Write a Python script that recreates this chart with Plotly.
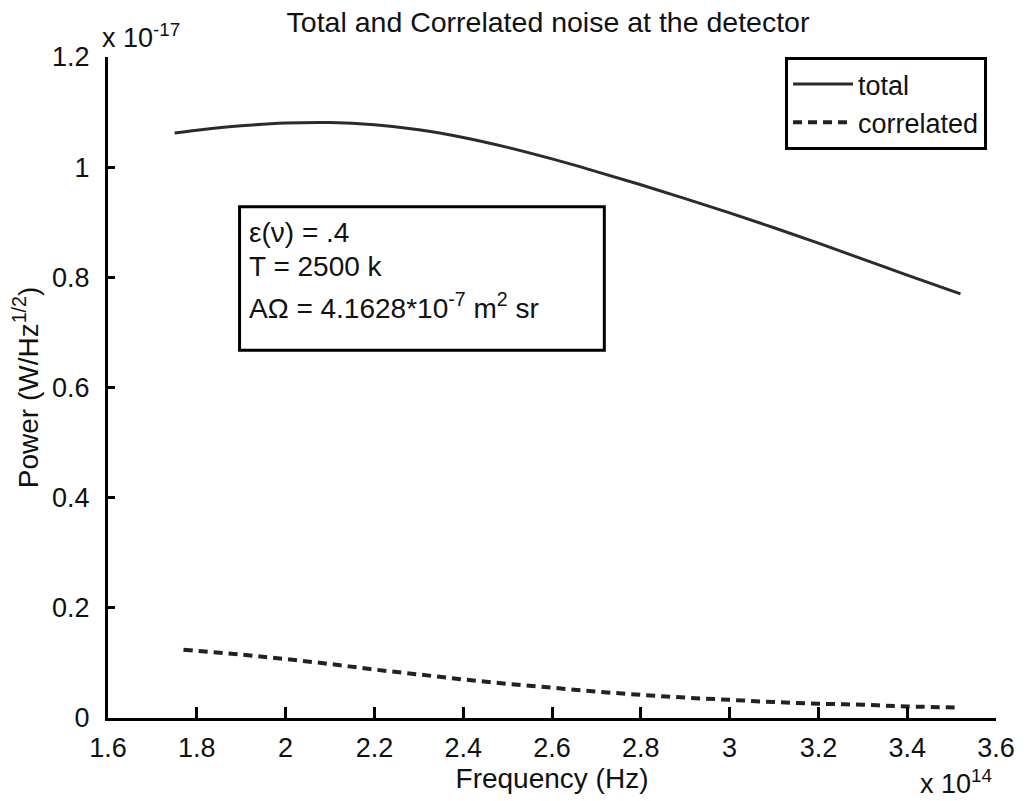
import plotly.graph_objects as go

# Data (frequency in units of 1e14 Hz, power in units of 1e-17 W/Hz^1/2)
freq_total = [1.75, 1.8, 1.9, 2.0, 2.1, 2.2, 2.3, 2.4, 2.5, 2.6, 2.7, 2.8, 2.9, 3.0, 3.1, 3.2, 3.3, 3.4, 3.52]
power_total = [1.062, 1.067, 1.075, 1.080, 1.081, 1.077, 1.068, 1.054, 1.036, 1.015, 0.992, 0.968,
               0.943, 0.917, 0.890, 0.862, 0.833, 0.804, 0.770]

freq_corr = [1.77, 1.9, 2.0, 2.1, 2.2, 2.3, 2.4, 2.5, 2.6, 2.7, 2.8, 2.9, 3.0, 3.1, 3.2, 3.3, 3.4, 3.52]
power_corr = [0.124, 0.115, 0.107, 0.098, 0.088, 0.079, 0.070, 0.062, 0.055, 0.048, 0.042, 0.037,
              0.033, 0.029, 0.026, 0.024, 0.021, 0.019]

x_tickvals = [1.6, 1.8, 2.0, 2.2, 2.4, 2.6, 2.8, 3.0, 3.2, 3.4, 3.6]
x_ticktext = ["1.6", "1.8", "2", "2.2", "2.4", "2.6", "2.8", "3", "3.2", "3.4", "3.6"]
y_tickvals = [0, 0.2, 0.4, 0.6, 0.8, 1.0, 1.2]
y_ticktext = ["0", "0.2", "0.4", "0.6", "0.8", "1", "1.2"]

FONT = "Liberation Sans, Arial, sans-serif"
W, H = 1027, 801
L, R, T, B = 108, 999, 57, 724


def px(x):
    return (x - L) / (R - L)


def py(y):
    return (B - y) / (B - T)


fig = go.Figure()
fig.add_trace(go.Scatter(x=freq_total, y=power_total, mode="lines", name="total",
                         line=dict(color="#2b2b2b", width=3, shape="spline")))
fig.add_trace(go.Scatter(x=freq_corr, y=power_corr, mode="lines", name="correlated",
                         line=dict(color="#222222", width=4, dash="9px,6px", shape="spline")))

fig.update_layout(
    width=W, height=H,
    margin=dict(l=L, r=W - R, t=T, b=H - B),
    paper_bgcolor="white", plot_bgcolor="white",
    font=dict(family=FONT, size=28, color="#111"),
    title=dict(text="Total and Correlated noise at the detector", x=548 / W, xanchor="center",
               y=1 - 22 / H, yanchor="middle", xref="container", yref="container",
               font=dict(size=28.5, family=FONT, color="#111")),
    showlegend=True,
    legend=dict(x=px(990), xanchor="right", y=py(57), yanchor="top",
                bordercolor="black", borderwidth=3, bgcolor="white",
                font=dict(size=27, family=FONT, color="#111"),
                itemwidth=60, tracegroupgap=0),
    xaxis=dict(range=[1.6, 3.6], tickvals=x_tickvals, ticktext=x_ticktext,
               showgrid=False, zeroline=False, showline=True, linecolor="black", linewidth=3,
               ticks="inside", ticklen=11, tickwidth=3, tickcolor="black",
               tickfont=dict(size=27, family=FONT, color="#111"), ticklabelstandoff=4,
               title=dict(text="Frequency (Hz)", standoff=6, font=dict(size=28, family=FONT)),
               mirror=False),
    yaxis=dict(range=[0, 1.2], tickvals=y_tickvals, ticktext=y_ticktext,
               showgrid=False, zeroline=False, showline=True, linecolor="black", linewidth=3,
               ticks="inside", ticklen=7, tickwidth=3, tickcolor="black",
               tickfont=dict(size=27, family=FONT, color="#111"), ticklabelstandoff=10,
               title=dict(text="Power (W/Hz<sup>1/2</sup>)", standoff=6, font=dict(size=28, family=FONT)),
               mirror=False),
)

# Parameter box
fig.add_shape(type="rect", xref="paper", yref="paper",
              x0=px(240), x1=px(606), y0=py(353), y1=py(208),
              line=dict(color="black", width=3), fillcolor="white", layer="above")

box_lines = [("ε(ν) = .4", 234), ("T = 2500 k", 268), ("AΩ = 4.1628*10<sup>-7</sup> m<sup>2</sup> sr", 308)]
for txt, yc in box_lines:
    fig.add_annotation(text=txt, xref="paper", yref="paper", x=px(247), y=py(yc),
                       xanchor="left", yanchor="middle", showarrow=False,
                       font=dict(size=28, family=FONT, color="#111"))

# Exponent multipliers
fig.add_annotation(text="x 10<sup>-17</sup>", xref="paper", yref="paper", x=px(100), y=py(36),
                   xanchor="left", yanchor="middle", showarrow=False,
                   font=dict(size=27, family=FONT, color="#111"))
fig.add_annotation(text="x 10<sup>14</sup>", xref="paper", yref="paper", x=px(921), y=py(789),
                   xanchor="left", yanchor="middle", showarrow=False,
                   font=dict(size=27, family=FONT, color="#111"))

fig.write_html("out.html")
